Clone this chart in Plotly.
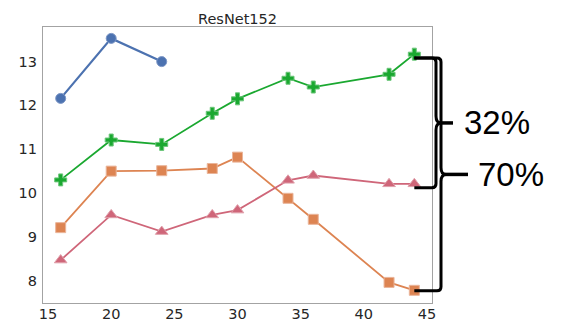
import plotly.graph_objects as go

# ---- data -------------------------------------------------------------
x_blue = [16, 20, 24]
y_blue = [12.16, 13.53, 13.0]

x_full = [16, 20, 24, 28, 30, 34, 36, 42, 44]
y_green = [10.30, 11.21, 11.11, 11.82, 12.15, 12.62, 12.42, 12.71, 13.17]
y_orange = [9.21, 10.50, 10.51, 10.56, 10.82, 9.88, 9.40, 7.96, 7.78]
y_pink = [8.47, 9.50, 9.12, 9.50, 9.61, 10.29, 10.40, 10.21, 10.21]

x_ticks = [15, 20, 25, 30, 35, 40, 45]
y_ticks = [8, 9, 10, 11, 12, 13]

title_text = "ResNet152"
gap_labels = ["32%", "70%"]

# ---- layout geometry ----------------------------------------------------
W, H = 561, 327
ML, MR, MT, MB = 43, 129, 27, 24
PW, PH = W - ML - MR, H - MT - MB
X_RANGE = [14.6, 45.4]
Y_RANGE = [7.49, 13.79]

FONT = "DejaVu Sans"
TXT = "#262626"
SPINE = "#a3a3a3"


def paper_y(v):
    return (v - Y_RANGE[0]) / (Y_RANGE[1] - Y_RANGE[0])


def paper_x(v):
    return (v - X_RANGE[0]) / (X_RANGE[1] - X_RANGE[0])


def px_right(dx):
    """paper x for a pixel offset to the right of the plot edge"""
    return 1 + dx / PW


def px_dy(d):
    return d / PH


fig = go.Figure()


def add_series(x, y, color, symbol, size, edge, width=2):
    fig.add_trace(go.Scatter(
        x=x, y=y, mode="lines+markers",
        line=dict(color=color, width=width),
        marker=dict(symbol=symbol, size=size, color=color,
                    line=dict(color=edge, width=1)),
        showlegend=False, cliponaxis=False,
    ))


add_series(x_blue, y_blue, "#4C72B0", "circle", 10, "#7d97c6", 2.2)
add_series(x_full, y_orange, "#DD8452", "square", 10, "#eab59a", 1.8)
add_series(x_full, y_green, "#1AA830", "cross", 10, "#6cc67a", 1.8)
add_series(x_full, y_pink, "#CF6679", "triangle-up", 11, "#e0a0ab", 1.8)

# ---- braces ---------------------------------------------------------------
top_v = 13.08
bottoms = [10.12, 7.77]
vert_dx = [4, 9]      # pixel offset of vertical stroke from plot edge
tip_dx = [21, 36]     # pixel offset where the tip stroke ends
x_start = paper_x(44)


def P(x, y):
    return f"{x:.5f},{y:.5f}"


shapes = []
for i, (bot, vdx, tdx) in enumerate(zip(bottoms, vert_dx, tip_dx)):
    yt, yb = paper_y(top_v), paper_y(bot)
    ym = (yt + yb) / 2
    xv = px_right(vdx)
    xc = px_right(vdx - 4)
    r = px_dy(4)
    path = (f"M {P(x_start, yt)} L {P(xc, yt)} Q {P(xv, yt)} {P(xv, yt - r)} "
            f"L {P(xv, ym + px_dy(7))} "
            f"Q {P(xv, ym)} {P(px_right(vdx + 5), ym)} "
            f"Q {P(xv, ym)} {P(xv, ym - px_dy(7))} "
            f"L {P(xv, yb + r)} Q {P(xv, yb)} {P(xc, yb)} L {P(x_start, yb)}")
    shapes.append(dict(type="path", xref="paper", yref="paper", path=path,
                       line=dict(color="black", width=3)))
    shapes.append(dict(type="line", xref="paper", yref="paper",
                       x0=px_right(vdx + 2), x1=px_right(tdx), y0=ym, y1=ym,
                       line=dict(color="black", width=3.5)))

annotations = []
label_dx = [30, 44]
for i, (bot, lab) in enumerate(zip(bottoms, gap_labels)):
    ym = (paper_y(top_v) + paper_y(bot)) / 2
    annotations.append(dict(
        text=lab, xref="paper", yref="paper", x=px_right(label_dx[i]), y=ym,
        xanchor="left", yanchor="middle", showarrow=False,
        font=dict(family="Liberation Sans", size=33, color="black"),
    ))

fig.update_layout(
    width=W, height=H,
    margin=dict(l=ML, r=MR, t=MT, b=MB, pad=0, autoexpand=False),
    paper_bgcolor="white", plot_bgcolor="white",
    font=dict(family=FONT, size=14.5, color=TXT),
    title=dict(text=title_text, x=0.5, xref="paper", xanchor="center",
               y=1, yref="paper", yanchor="bottom", pad=dict(b=3),
               automargin=False,
               font=dict(family=FONT, size=14.5, color=TXT)),
    xaxis=dict(range=X_RANGE, tickvals=x_ticks, ticks="", showgrid=False,
               zeroline=False, showline=True, linecolor=SPINE, linewidth=1.3,
               mirror=True, ticklabelstandoff=-3, automargin=False),
    yaxis=dict(range=Y_RANGE, tickvals=y_ticks, ticks="", showgrid=False,
               zeroline=False, showline=True, linecolor=SPINE, linewidth=1.3,
               mirror=True, ticklabelstandoff=2, automargin=False),
    shapes=shapes,
    annotations=annotations,
)

fig.write_html("out.html")
